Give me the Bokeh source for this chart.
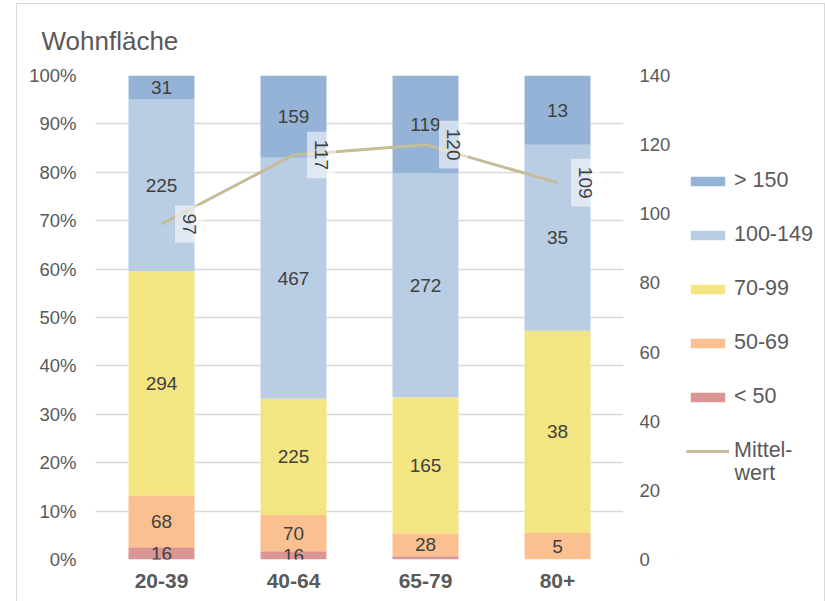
import math
from bokeh.plotting import figure
from bokeh.layouts import row
from bokeh.models import (Range1d, LinearAxis, SingleIntervalTicker, NumeralTickFormatter,
                          Label, Legend, LegendItem, ColumnDataSource)
from bokeh.core.properties import value
from bokeh.embed import file_html
from bokeh.resources import INLINE

# ---------------- data ----------------
categories = ["20-39", "40-64", "65-79", "80+"]
series_names = ["< 50", "50-69", "70-99", "100-149", "> 150"]
lt50 = [16, 16, 4, 0]
s50_69 = [68, 70, 28, 5]
s70_99 = [294, 225, 165, 38]
s100_149 = [225, 467, 272, 35]
gt150 = [31, 159, 119, 13]
mittelwert = [97, 117, 120, 109]
line_name = ["Mittel-", "wert"]
series_colors = ["#D99694", "#FAC090", "#F4E583", "#B9CDE5", "#95B3D7"]
line_color = "#C4BD97"

FONT = "Liberation Sans"
TXT = "#595959"
LBL = "#404040"
GRID = "#D9D9D9"

counts = [lt50, s50_69, s70_99, s100_149, gt150]
totals = [sum(c[i] for c in counts) for i in range(len(categories))]
fracs = [[c[i] / totals[i] for i in range(len(categories))] for c in counts]

data = {"cat": categories}
for name, fr in zip(series_names, fracs):
    data[name] = fr
source = ColumnDataSource(data)

# ---------------- main chart ----------------
p = figure(x_range=categories, y_range=Range1d(0, 1), width=662, height=598,
           output_backend="svg", toolbar_location=None, tools="",
           min_border_left=78, min_border_right=56, min_border_top=10, min_border_bottom=43)
p.outline_line_color = None
p.x_range.range_padding = 0

p.title.text = "Wohnfläche"
p.title.align = "left"
p.title.offset = -54
p.title.standoff = 39
p.title.text_font = FONT
p.title.text_font_size = "26px"
p.title.text_font_style = "normal"
p.title.text_color = TXT

renderers = p.vbar_stack(series_names, x="cat", width=0.5, source=source,
                         color=series_colors, line_color=None)

# data labels (centre of each segment)
lx, ly, lt = [], [], []
for i, cat in enumerate(categories):
    base = 0.0
    for s in range(len(series_names)):
        f = fracs[s][i]
        if f > 0.01:
            lx.append(cat)
            ly.append(base + f / 2)
            lt.append(str(counts[s][i]))
        base += f
p.text(x=lx, y=ly, text=lt, text_align="center", text_baseline="middle",
       text_font=value(FONT), text_font_size="19px", text_color=LBL)

# secondary axis + mean line
p.extra_y_ranges = {"right": Range1d(0, 140)}
p.line(x=categories, y=mittelwert, y_range_name="right", line_color=line_color, line_width=3)
for i, m in enumerate(mittelwert):
    # synthetic coordinate of factor i on the categorical axis is i + 0.5
    p.add_layout(Label(x=i + 0.5, y=m, y_range_name="right", text=str(m), angle=-math.pi / 2,
                       x_offset=28, text_align="center", text_baseline="middle",
                       text_font=FONT, text_font_size="19px", text_color=LBL,
                       background_fill_color="white", background_fill_alpha=0.55,
                       padding=8))

p.yaxis.ticker = SingleIntervalTicker(interval=0.1, num_minor_ticks=0)
p.yaxis.formatter = NumeralTickFormatter(format="0%")
ax2 = LinearAxis(y_range_name="right", ticker=SingleIntervalTicker(interval=20, num_minor_ticks=0))
p.add_layout(ax2, "right")
for ax in [p.yaxis[0], ax2]:
    ax.axis_line_color = None
    ax.major_tick_line_color = None
    ax.minor_tick_line_color = None
    ax.major_tick_out = 0
    ax.major_tick_in = 0
    ax.major_label_standoff = 19
    ax.major_label_text_font = FONT
    ax.major_label_text_font_size = "18.5px"
    ax.major_label_text_color = TXT
ax2.major_label_standoff = 16

p.xaxis.axis_line_color = None
p.xaxis.major_tick_line_color = None
p.xaxis.major_tick_out = 0
p.xaxis.major_tick_in = 0
p.xaxis.major_label_standoff = 14
p.xaxis.major_label_text_font = FONT
p.xaxis.major_label_text_font_size = "21px"
p.xaxis.major_label_text_font_style = "bold"
p.xaxis.major_label_text_color = TXT

p.xgrid.grid_line_color = None
p.ygrid.grid_line_color = GRID
p.ygrid.grid_line_width = 1.5

# ---------------- legend panel ----------------
lg = figure(width=145, height=598, x_range=Range1d(0, 145), y_range=Range1d(0, 598),
            output_backend="svg", toolbar_location=None, tools="",
            x_axis_location=None, y_axis_location=None,
            min_border=0)
lg.outline_line_color = None
lg.grid.grid_line_color = None

# proxy renderers (outside the visible range) that only supply legend swatches
items = []
for s in range(len(series_names) - 1, -1, -1):
    r = lg.vbar(x=[-100], top=[-100], width=1, color=series_colors[s], line_color=None)
    items.append(LegendItem(label=series_names[s], renderers=[r]))
lr = lg.line(x=[-100, -90], y=[-100, -100], line_color=line_color, line_width=3)
items.append(LegendItem(label=line_name[0], renderers=[lr]))

legend = Legend(items=items, location=(7, 96), glyph_width=43, glyph_height=12,
                label_standoff=5, label_text_font=FONT, label_text_font_size="21.5px",
                label_text_color=TXT, label_height=22, spacing=29, padding=0, margin=0,
                border_line_color=None, background_fill_alpha=0)
lg.add_layout(legend, "center")
lg.add_layout(Label(x=55, y=107, text=line_name[1], text_align="left", text_baseline="middle",
                    text_font=FONT, text_font_size="21.5px", text_color=TXT))

layout = row(p, lg, margin=(3, 0, 0, 16))
layout.styles = {"border-top": "1px solid #D9D9D9", "border-left": "1px solid #D9D9D9",
                 "border-right": "1px solid #D9D9D9"}

open("out.html", "w").write(file_html(layout, INLINE))
